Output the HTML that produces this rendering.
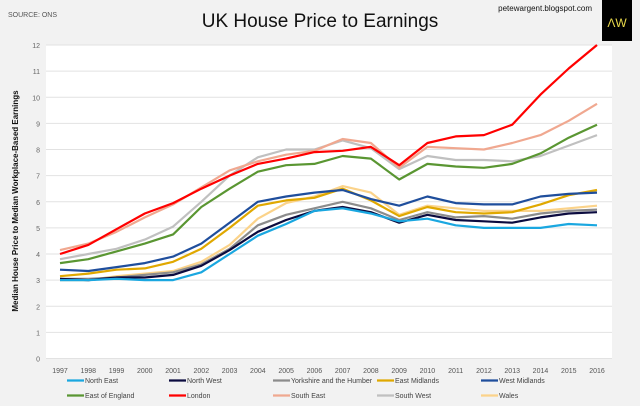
<!DOCTYPE html>
<html><head><meta charset="utf-8"><style>
body{margin:0;background:#f2f2f2;}
svg{display:block;font-family:"Liberation Sans",Arial,sans-serif;}
</style></head><body>
<svg id="c" width="640" height="406" viewBox="0 0 640 406">
<rect x="0" y="0" width="640" height="406" fill="#f2f2f2"/>
<text x="8" y="17" font-size="7" fill="#555">SOURCE: ONS</text>
<text x="320" y="27" font-size="19" text-anchor="middle" fill="#111">UK House Price to Earnings</text>
<text x="592" y="11" font-size="8" text-anchor="end" fill="#111">petewargent.blogspot.com</text>
<rect x="602" y="0" width="30" height="41" fill="#000"/>
<text x="617" y="27" font-size="12" text-anchor="middle" fill="#e8d84a">ΛW</text>
<rect x="46" y="45" width="566" height="314" fill="#fff"/>
<g id="grid"></g><g id="lines"></g><g id="legend"></g>
<text transform="translate(18,201) rotate(-90)" font-size="8" font-weight="bold" text-anchor="middle" fill="#111">Median House Price to Median Workplace-Based Earnings</text>
</svg>
<script>
const years=[1997,1998,1999,2000,2001,2002,2003,2004,2005,2006,2007,2008,2009,2010,2011,2012,2013,2014,2015,2016];
const yTicks=[0,1,2,3,4,5,6,7,8,9,10,11,12];
const names=["North East","North West","Yorkshire and the Humber","East Midlands","West Midlands","East of England","London","South East","South West","Wales"];
const colors=["#1aa7e0","#0b0b3f","#8c8c8c","#e0a800","#1f4e9c","#5a9632","#ff0000","#f0a890","#c0c0c0","#fbd38a"];
const northEast=[3.0,3.0,3.05,3.0,3.0,3.3,4.0,4.7,5.15,5.65,5.75,5.55,5.25,5.35,5.1,5.0,5.0,5.0,5.15,5.1];
const northWest=[3.05,3.0,3.1,3.1,3.2,3.55,4.15,4.85,5.3,5.65,5.8,5.6,5.2,5.5,5.3,5.25,5.2,5.4,5.55,5.6];
const yorkshire=[3.05,3.05,3.1,3.2,3.3,3.6,4.2,5.1,5.5,5.75,6.0,5.75,5.3,5.6,5.4,5.45,5.35,5.55,5.65,5.7];
const eastMidlands=[3.15,3.25,3.4,3.45,3.7,4.2,5.0,5.85,6.05,6.15,6.5,6.05,5.45,5.8,5.6,5.55,5.6,5.9,6.25,6.45];
const westMidlands=[3.4,3.35,3.5,3.65,3.9,4.4,5.2,6.0,6.2,6.35,6.45,6.1,5.85,6.2,5.95,5.9,5.9,6.2,6.3,6.35];
const eastEngland=[3.65,3.8,4.1,4.4,4.75,5.8,6.5,7.15,7.4,7.45,7.75,7.65,6.85,7.45,7.35,7.3,7.45,7.85,8.45,8.95];
const london=[4.0,4.35,4.95,5.55,5.95,6.5,7.0,7.45,7.65,7.9,7.95,8.1,7.4,8.25,8.5,8.55,8.95,10.1,11.1,12.0];
const southEast=[4.15,4.4,4.85,5.4,5.9,6.55,7.2,7.55,7.8,7.95,8.4,8.25,7.3,8.1,8.05,8.0,8.25,8.55,9.1,9.75];
const southWest=[3.8,4.0,4.2,4.55,5.05,6.0,7.0,7.7,8.0,8.0,8.35,8.05,7.25,7.75,7.6,7.6,7.55,7.75,8.15,8.55];
const wales=[3.0,3.0,3.15,3.25,3.35,3.7,4.35,5.35,5.95,6.2,6.6,6.35,5.5,5.85,5.75,5.65,5.65,5.65,5.75,5.85];
const series=[northEast,northWest,yorkshire,eastMidlands,westMidlands,eastEngland,london,southEast,southWest,wales];
const NS="http://www.w3.org/2000/svg";
const x0=60,x1=597,yTop=45,yBot=358.5,yMax=12;
function xs(i){return x0+(x1-x0)*i/(years.length-1);}
function ys(v){return yBot-(yBot-yTop)*v/yMax;}
function mk(tag,attrs,parent,txt){const e=document.createElementNS(NS,tag);for(const k in attrs)e.setAttribute(k,attrs[k]);if(txt!==undefined)e.textContent=txt;parent.appendChild(e);return e;}
const grid=document.getElementById('grid');
yTicks.forEach(t=>{
  const l=mk('line',{x1:46,x2:612,y1:ys(t),y2:ys(t),stroke:'#e2e2e2','stroke-width':1},grid);
  
  
  const tx=mk('text',{x:40,y:ys(t)+3,'font-size':7,'text-anchor':'end',fill:'#666'},grid,String(t));
  
  
});
years.forEach((y,i)=>{
  const tx=mk('text',{x:xs(i),y:373,'font-size':7,'text-anchor':'middle',fill:'#555'},grid,String(y));
  
  
});
const lines=document.getElementById('lines');
const order=[9,2,1,0,3,4,8,5,7,6];
order.forEach(s=>{
  const pts=series[s].map((v,i)=>xs(i).toFixed(1)+','+ys(v).toFixed(1)).join(' ');
  const p=mk('polyline',{points:pts,fill:'none',stroke:colors[s],'stroke-width':2.2,'stroke-linejoin':'round'},lines);
  
  
});
const leg=document.getElementById('legend');
const lx=[67,169,273,377,481];
names.forEach((n,s)=>{
  const r=Math.floor(s/5),c=s%5,y=r?398:383;
  const g=mk('g',{},leg);
  
  
  mk('line',{x1:lx[c],x2:lx[c]+17,y1:y-2.5,y2:y-2.5,stroke:colors[s],'stroke-width':2.2},g);
  mk('text',{x:lx[c]+18,y:y,'font-size':7,fill:'#444'},g,n);
});
</script>
</body></html>
